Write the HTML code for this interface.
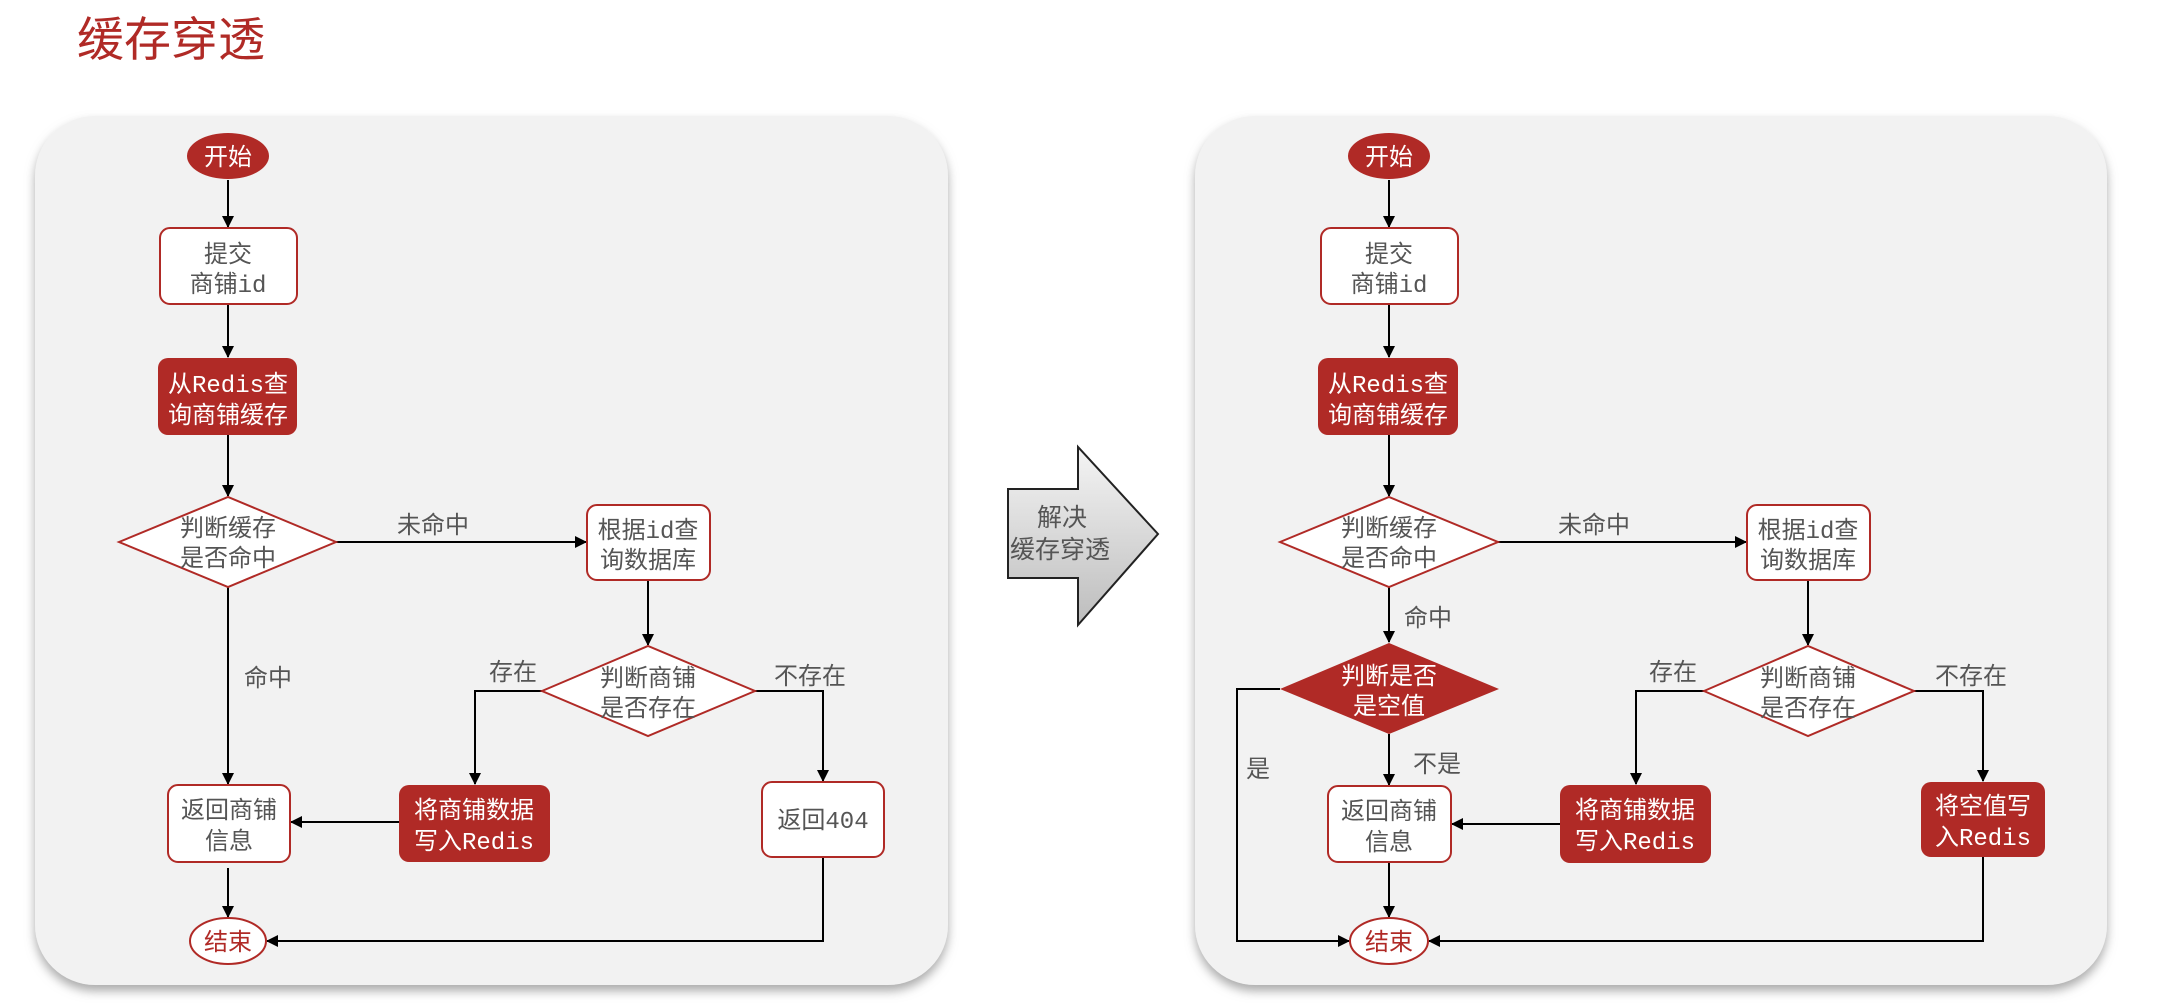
<!DOCTYPE html>
<html><head><meta charset="utf-8"><style>
html,body{margin:0;padding:0;background:#fff;}
svg{display:block;}
text{font-family:"Liberation Mono","Noto Sans CJK SC",monospace;font-size:24px;text-anchor:middle;}
.g{fill:#555;}
.w{fill:#fff;}
.r{fill:#b02a26;}
.lbl{font-family:"Liberation Sans","Noto Sans CJK SC",sans-serif;font-size:24px;fill:#555;}
</style></head><body>
<svg width="2183" height="1008" viewBox="0 0 2183 1008" xmlns="http://www.w3.org/2000/svg">
<defs>
<filter id="sh" x="-5%" y="-5%" width="110%" height="115%"><feDropShadow dx="0" dy="6" stdDeviation="5" flood-color="#888" flood-opacity="0.7"/></filter>
<linearGradient id="ag" x1="0" y1="0" x2="0" y2="1"><stop offset="0" stop-color="#f4f4f4"/><stop offset="1" stop-color="#bdbdbd"/></linearGradient>
<marker id="ah" markerWidth="12" markerHeight="12" refX="11" refY="6" orient="auto" markerUnits="userSpaceOnUse"><path d="M0,0 L12,6 L0,12 z" fill="#000"/></marker>
</defs>
<text x="171" y="56" style="font-family:'Liberation Sans','Noto Sans CJK SC',sans-serif;font-size:47px;fill:#b02a26;">缓存穿透</text>

<rect x="35" y="116" width="913" height="869" rx="60" fill="#f2f2f2" filter="url(#sh)"/>
<rect x="1195" y="116" width="912" height="869" rx="60" fill="#f2f2f2" filter="url(#sh)"/>

<polygon points="1008,489 1078,489 1078,447 1158,534 1078,625 1078,578 1008,578" fill="url(#ag)" stroke="#222" stroke-width="2"/>
<text x="1062" y="526" class="lbl" style="font-size:25px">解决</text>
<text x="1060" y="558" class="lbl" style="font-size:25px">缓存穿透</text>

<g stroke="#000" stroke-width="2" fill="none">
<line x1="228" y1="180" x2="228" y2="227" marker-end="url(#ah)"/>
<line x1="228" y1="304" x2="228" y2="357" marker-end="url(#ah)"/>
<line x1="228" y1="435" x2="228" y2="496" marker-end="url(#ah)"/>
<line x1="336" y1="542" x2="586" y2="542" marker-end="url(#ah)"/>
<line x1="648" y1="580" x2="648" y2="645" marker-end="url(#ah)"/>
<polyline points="542,691 475,691 475,784" marker-end="url(#ah)"/>
<polyline points="755,691 823,691 823,781" marker-end="url(#ah)"/>
<line x1="228" y1="587" x2="228" y2="784" marker-end="url(#ah)"/>
<line x1="399" y1="822" x2="291" y2="822" marker-end="url(#ah)"/>
<line x1="228" y1="868" x2="228" y2="917" marker-end="url(#ah)"/>
<polyline points="823,857 823,941 267,941" marker-end="url(#ah)"/>
<line x1="1389" y1="180" x2="1389" y2="227" marker-end="url(#ah)"/>
<line x1="1389" y1="304" x2="1389" y2="357" marker-end="url(#ah)"/>
<line x1="1389" y1="435" x2="1389" y2="496" marker-end="url(#ah)"/>
<line x1="1498" y1="542" x2="1746" y2="542" marker-end="url(#ah)"/>
<line x1="1808" y1="580" x2="1808" y2="645" marker-end="url(#ah)"/>
<polyline points="1704,691 1636,691 1636,784" marker-end="url(#ah)"/>
<polyline points="1914,691 1983,691 1983,781" marker-end="url(#ah)"/>
<line x1="1389" y1="587" x2="1389" y2="642" marker-end="url(#ah)"/>
<line x1="1389" y1="734" x2="1389" y2="785" marker-end="url(#ah)"/>
<polyline points="1280,689 1237,689 1237,941 1349,941" marker-end="url(#ah)"/>
<line x1="1560" y1="824" x2="1452" y2="824" marker-end="url(#ah)"/>
<line x1="1389" y1="862" x2="1389" y2="917" marker-end="url(#ah)"/>
<polyline points="1983,857 1983,941 1429,941" marker-end="url(#ah)"/>
</g>

<ellipse cx="228" cy="156" rx="41" ry="23" fill="#b02a26"/>
<text x="228" y="165" class="w" style="font-family:'Liberation Sans','Noto Sans CJK SC',sans-serif">开始</text>
<rect x="160" y="228" width="137" height="76" rx="10" fill="#fff" stroke="#b02a26" stroke-width="2"/>
<text x="228" y="262" class="g">提交</text><text x="228" y="292" class="g">商铺id</text>
<rect x="158" y="358" width="139" height="77" rx="10" fill="#b02a26"/>
<text x="228" y="392" class="w">从Redis查</text><text x="228" y="423" class="w">询商铺缓存</text>
<polygon points="119,542 228,497 336,542 228,587" fill="#fff" stroke="#b02a26" stroke-width="2"/>
<text x="228" y="536" class="g">判断缓存</text><text x="228" y="566" class="g">是否命中</text>
<text x="433" y="533" class="lbl">未命中</text>
<rect x="587" y="505" width="123" height="75" rx="10" fill="#fff" stroke="#b02a26" stroke-width="2"/>
<text x="648" y="538" class="g">根据id查</text><text x="648" y="568" class="g">询数据库</text>
<polygon points="542,691 648,646 755,691 648,736" fill="#fff" stroke="#b02a26" stroke-width="2"/>
<text x="648" y="686" class="g">判断商铺</text><text x="648" y="716" class="g">是否存在</text>
<text x="513" y="680" class="lbl">存在</text>
<text x="810" y="684" class="lbl">不存在</text>
<text x="268" y="686" class="lbl">命中</text>
<rect x="168" y="785" width="122" height="77" rx="10" fill="#fff" stroke="#b02a26" stroke-width="2"/>
<text x="229" y="818" class="g">返回商铺</text><text x="229" y="849" class="g">信息</text>
<rect x="399" y="785" width="151" height="77" rx="10" fill="#b02a26"/>
<text x="474" y="818" class="w">将商铺数据</text><text x="474" y="849" class="w">写入Redis</text>
<rect x="762" y="782" width="122" height="75" rx="10" fill="#fff" stroke="#b02a26" stroke-width="2"/>
<text x="823" y="828" class="g">返回404</text>
<ellipse cx="228" cy="941" rx="38" ry="23" fill="#fff" stroke="#b02a26" stroke-width="2"/>
<text x="228" y="950" class="r" style="font-family:'Liberation Sans','Noto Sans CJK SC',sans-serif">结束</text>

<ellipse cx="1389" cy="156" rx="41" ry="23" fill="#b02a26"/>
<text x="1389" y="165" class="w" style="font-family:'Liberation Sans','Noto Sans CJK SC',sans-serif">开始</text>
<rect x="1321" y="228" width="137" height="76" rx="10" fill="#fff" stroke="#b02a26" stroke-width="2"/>
<text x="1389" y="262" class="g">提交</text><text x="1389" y="292" class="g">商铺id</text>
<rect x="1318" y="358" width="140" height="77" rx="10" fill="#b02a26"/>
<text x="1388" y="392" class="w">从Redis查</text><text x="1388" y="423" class="w">询商铺缓存</text>
<polygon points="1280,542 1389,497 1498,542 1389,587" fill="#fff" stroke="#b02a26" stroke-width="2"/>
<text x="1389" y="536" class="g">判断缓存</text><text x="1389" y="566" class="g">是否命中</text>
<text x="1594" y="533" class="lbl">未命中</text>
<rect x="1747" y="505" width="123" height="75" rx="10" fill="#fff" stroke="#b02a26" stroke-width="2"/>
<text x="1808" y="538" class="g">根据id查</text><text x="1808" y="568" class="g">询数据库</text>
<polygon points="1704,691 1808,646 1914,691 1808,736" fill="#fff" stroke="#b02a26" stroke-width="2"/>
<text x="1808" y="686" class="g">判断商铺</text><text x="1808" y="716" class="g">是否存在</text>
<text x="1673" y="680" class="lbl">存在</text>
<text x="1971" y="684" class="lbl">不存在</text>
<text x="1428" y="626" class="lbl">命中</text>
<polygon points="1280,689 1389,643 1499,689 1389,734" fill="#b02a26"/>
<text x="1389" y="684" class="w">判断是否</text><text x="1389" y="714" class="w">是空值</text>
<text x="1437" y="772" class="lbl">不是</text>
<text x="1258" y="777" class="lbl">是</text>
<rect x="1328" y="786" width="123" height="76" rx="10" fill="#fff" stroke="#b02a26" stroke-width="2"/>
<text x="1389" y="819" class="g">返回商铺</text><text x="1389" y="850" class="g">信息</text>
<rect x="1560" y="785" width="151" height="78" rx="10" fill="#b02a26"/>
<text x="1635" y="818" class="w">将商铺数据</text><text x="1635" y="849" class="w">写入Redis</text>
<rect x="1921" y="782" width="124" height="75" rx="10" fill="#b02a26"/>
<text x="1983" y="814" class="w">将空值写</text><text x="1983" y="845" class="w">入Redis</text>
<ellipse cx="1389" cy="941" rx="39" ry="23" fill="#fff" stroke="#b02a26" stroke-width="2"/>
<text x="1389" y="950" class="r" style="font-family:'Liberation Sans','Noto Sans CJK SC',sans-serif">结束</text>
</svg>
</body></html>
